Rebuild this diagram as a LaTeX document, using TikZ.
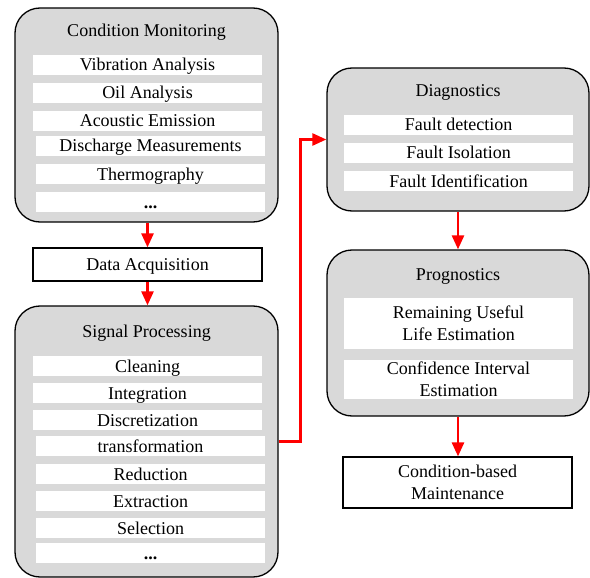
\documentclass[tikz,border=0pt]{standalone}
\usepackage{fontspec}
\setmainfont{Liberation Serif}
\usetikzlibrary{arrows.meta}
\definecolor{panelgray}{HTML}{D9D9D9}
\begin{document}
\begin{tikzpicture}[x=1pt,y=-1pt,
  panel/.style={draw=black, line width=1.3pt, fill=panelgray, rounded corners=25pt, inner sep=0pt},
  heading/.style={inner sep=0pt, text height=12pt, text depth=0pt, font=\fontsize{18}{22}\selectfont},
  item/.style={fill=white, inner sep=0pt, minimum width=229pt, minimum height=20pt,
    font=\fontsize{18}{22}\selectfont, align=center},
  oneline/.style={text height=12pt, text depth=0pt},
  plainbox/.style={draw=black, line width=1.2pt, fill=white, inner sep=0pt,
    minimum width=229pt, font=\fontsize{18}{22}\selectfont, align=center},
  flow/.style={draw=red, line width=2.6pt, -{Triangle[length=14pt,width=12pt]}}
]
\useasboundingbox (0,0) rectangle (590,578);

% Condition monitoring
\node[panel, minimum width=263pt, minimum height=214pt] (cm) at (146.5,115) {};
\node[heading] (cmt) at (146.5,31) {Condition Monitoring};
\node[item, oneline] (cm1) at (147.5,65) {Vibration Analysis};
\node[item, oneline] (cm2) at (147.5,93) {Oil Analysis};
\node[item, oneline] (cm3) at (147.5,121) {Acoustic Emission};
\node[item, oneline] (cm4) at (150.5,146) {Discharge Measurements};
\node[item, oneline] (cm5) at (150.5,174) {Thermography};
\node[item, oneline] (cm6) at (150.5,202) {\textbf{...}};

% Data acquisition
\node[plainbox, oneline, minimum height=33pt] (da) at (147.5,264.5) {Data Acquisition};

% Signal processing
\node[panel, minimum width=263pt, minimum height=271pt] (sp) at (146.5,441.5) {};
\node[heading] (spt) at (146.5,331) {Signal Processing};
\node[item, oneline] (sp1) at (147.5,366) {Cleaning};
\node[item, oneline] (sp2) at (147.5,393) {Integration};
\node[item, oneline] (sp3) at (147.5,420) {Discretization};
\node[item, oneline] (sp4) at (150.5,446) {transformation};
\node[item, oneline] (sp5) at (150.5,474) {Reduction};
\node[item, oneline] (sp6) at (150.5,501) {Extraction};
\node[item, oneline] (sp7) at (150.5,528) {Selection};
\node[item, oneline] (sp8) at (150.5,553) {\textbf{...}};

% Diagnostics
\node[panel, minimum width=262pt, minimum height=143pt] (dg) at (458,139.5) {};
\node[heading] (dgt) at (458,91) {Diagnostics};
\node[item, oneline] (dg1) at (458.5,125) {Fault detection};
\node[item, oneline] (dg2) at (458.5,153) {Fault Isolation};
\node[item, oneline] (dg3) at (458.5,181) {Fault Identification};

% Prognostics
\node[panel, minimum width=262pt, minimum height=166pt] (pg) at (458,333) {};
\node[heading] (pgt) at (458,274) {Prognostics};
\node[item, minimum height=51pt] (pg1) at (458.5,323.5) {Remaining Useful\\Life Estimation};
\node[item, minimum height=39pt] (pg2) at (458.5,379.5) {Confidence Interval\\Estimation};

% Maintenance
\node[plainbox, minimum height=51pt] (cbm) at (457.5,482.5) {Condition-based\\Maintenance};

% Connectors
\draw[flow] (cm.south -| da.north) -- (da.north);
\draw[flow] (da.south) -- (sp.north -| da.south);
\draw[flow] (sp.east) -- ++(22,0) |- (dg.west);
\draw[flow] (dg.south) -- (pg.north);
\draw[flow] (pg.south) -- (pg.south |- cbm.north);
\end{tikzpicture}
\end{document}
